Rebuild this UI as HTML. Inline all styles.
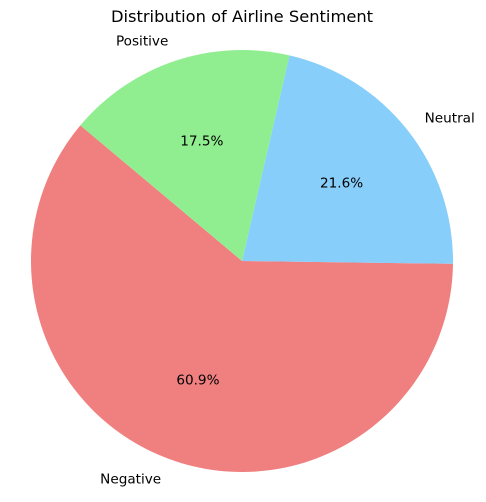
<!DOCTYPE html>
<html><head><meta charset="utf-8"><style>
body{margin:0;background:#fff;}
svg{display:block;font-family:"DejaVu Sans","Liberation Sans",sans-serif;}
</style></head><body>
<svg id="chart" width="486" height="502">
<text x="242" y="22" text-anchor="middle" font-size="16.3" fill="#000">Distribution of Airline Sentiment</text>
<g id="slices"></g>
</svg>
<script>
const categories = ["Negative", "Neutral", "Positive"];
const values = [60.9, 21.6, 17.5];
const colors = ["#f08080", "#87cefa", "#90ee90"];
const cx = 242, cy = 261, r = 211, startAngle = 140;
const g = document.getElementById('slices');
const ns = 'http://www.w3.org/2000/svg';
const total = values.reduce((a,b)=>a+b,0);
let a0 = startAngle;
function pt(deg, rr){const t=deg*Math.PI/180;return [cx+rr*Math.cos(t), cy-rr*Math.sin(t)];}
values.forEach((v,i)=>{
  const sweep = v/total*360;
  const a1 = a0 + sweep;
  const p0 = pt(a0,r), p1 = pt(a1,r);
  const large = sweep>180?1:0;
  const path = document.createElementNS(ns,'path');
  path.setAttribute('d',`M${cx},${cy} L${p0[0]},${p0[1]} A${r},${r} 0 ${large} 0 ${p1[0]},${p1[1]} Z`);
  path.setAttribute('fill',colors[i]);
  
  
  g.appendChild(path);
  const mid = (a0+a1)/2;
  const lp = pt(mid, r*1.1);
  const lbl = document.createElementNS(ns,'text');
  lbl.setAttribute('x', lp[0]);
  lbl.setAttribute('y', lp[1]+4.7);
  lbl.setAttribute('font-size','13.6');
  lbl.setAttribute('text-anchor', Math.cos(mid*Math.PI/180)>0?'start':'end');
  lbl.textContent = categories[i];
  
  
  g.appendChild(lbl);
  const pp = pt(mid, r*0.6);
  const pct = document.createElementNS(ns,'text');
  pct.setAttribute('x', pp[0]);
  pct.setAttribute('y', pp[1]+4.7);
  pct.setAttribute('font-size','13.6');
  pct.setAttribute('text-anchor','middle');
  pct.textContent = v.toFixed(1)+'%';
  
  
  g.appendChild(pct);
  a0 = a1;
});
</script>
</body></html>
